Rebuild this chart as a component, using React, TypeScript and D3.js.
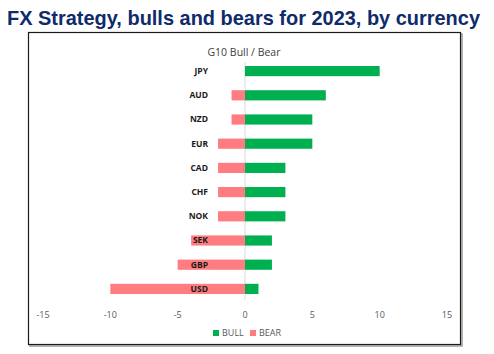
import React from 'react';
import * as d3 from 'd3';

const currencies = ['JPY', 'AUD', 'NZD', 'EUR', 'CAD', 'CHF', 'NOK', 'SEK', 'GBP', 'USD'];
const bull = [10, 6, 5, 5, 3, 3, 3, 2, 2, 1];
const bear = [0, -1, -1, -2, -2, -2, -2, -4, -5, -10];
const xTicks = [-15, -10, -5, 0, 5, 10, 15];

const GREEN = '#00b050';
const PINK = '#ff7c80';

const App = () => {
  const width = 494;
  const height = 354;

  const x = d3.scaleLinear().domain([-15, 15]).range([43, 447]);
  const y = d3.scaleBand().domain(currencies).range([59, 301]).paddingInner(0.58).paddingOuter(0.29);
  const bh = y.bandwidth();

  const font = '"Open Sans", "Noto Sans", sans-serif';

  return (
    <svg width={width} height={height} style={{ position: 'absolute', left: 0, top: 0 }}>
      <rect width={width} height={height} fill="#fff" />
      <text x={7} y={25} textLength={473} lengthAdjust="spacingAndGlyphs"
        fontFamily='"Liberation Sans", Arial, sans-serif'
        fontWeight="bold" fontSize={20.5} fill="#0f2b6b">
        FX Strategy, bulls and bears for 2023, by currency
      </text>

      {/* frame with slight shadow */}
      <rect x={30} y={34} width={432} height={312} fill="none" stroke="#9a9a9a" strokeWidth={1.5} />
      <rect x={28.5} y={32.5} width={432} height={312} fill="#fff" stroke="#1a1a1a" strokeWidth={1.2} />

      <text x={244} y={56} textAnchor="middle" fontFamily={font} fontSize={10.5} fill="#404040">
        G10 Bull / Bear
      </text>

      <line x1={x(0)} x2={x(0)} y1={62} y2={300} stroke="#d9d9d9" strokeWidth={1} />

      {currencies.map((c, i) => (
        <g key={c}>
          {bear[i] < 0 && (
            <rect x={x(bear[i])} y={y(c)} width={x(0) - x(bear[i])} height={bh} fill={PINK} />
          )}
          <rect x={x(0)} y={y(c)} width={x(bull[i]) - x(0)} height={bh} fill={GREEN} />
        </g>
      ))}

      {currencies.map((c) => (
        <text key={c} x={208} y={(y(c) ?? 0) + bh / 2} dy="0.35em" textAnchor="end"
          fontFamily={font} fontWeight="bold" fontSize={8.5} fill="#1a1a1a">
          {c}
        </text>
      ))}

      {xTicks.map((t) => (
        <text key={t} x={x(t)} y={318} textAnchor="middle" fontFamily={font} fontSize={9} fill="#595959">
          {t}
        </text>
      ))}

      <g fontFamily={font} fontSize={9} fill="#595959">
        <rect x={213} y={330} width={6} height={6} fill={GREEN} />
        <text x={222} y={336}>BULL</text>
        <rect x={250} y={330} width={6} height={6} fill={PINK} />
        <text x={259} y={336}>BEAR</text>
      </g>
    </svg>
  );
};

export default App;
